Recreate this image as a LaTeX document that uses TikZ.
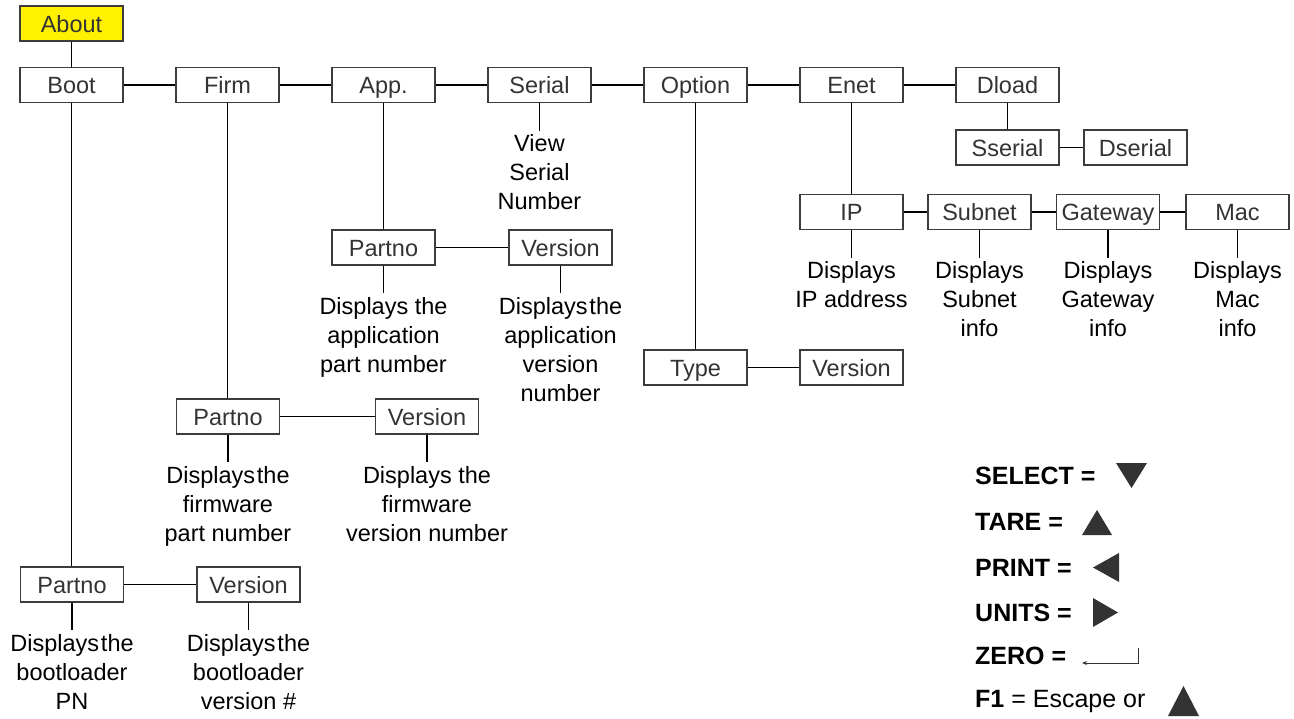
\documentclass[tikz,border=0pt]{standalone}
\usepackage{fontspec}
\setmainfont{Liberation Sans}
\usetikzlibrary{positioning,arrows.meta}
\definecolor{boxgray}{HTML}{3C3C3C}
\definecolor{textgray}{HTML}{333333}
\definecolor{aboutyellow}{HTML}{FFF100}
\definecolor{symgray}{HTML}{333333}
\newcommand{\tsp}{\hspace{0.08em}}
\begin{document}
\begin{tikzpicture}[x=1pt,y=-1pt,
  box/.style={draw=boxgray, line width=1.3pt, fill=white, minimum width=103pt, minimum height=35pt,
    inner sep=0pt, text height=20pt, text depth=2.6pt, text=textgray, font=\fontsize{23.5}{29}\selectfont},
  desc/.style={align=center, inner xsep=0pt, inner ysep=4pt, text=black,
    font=\fontsize{23.5}{29}\selectfont},
  conn/.style={line width=1.3pt, black},
  legend/.style={anchor=base west, inner sep=0pt, font=\fontsize{25}{30}\selectfont},
  sym/.style={fill=symgray, draw=none},
  node distance=27.5pt]
\useasboundingbox (0,0) rectangle (1294,719);

% boxes
\node[box, fill=aboutyellow] (about) at (71.5,23.5) {About};
\node[box] (boot)   at (71.5,85)  {Boot};
\node[box] (firm)   at (227.5,85) {Firm};
\node[box] (app)    at (383.5,85) {App.};
\node[box] (serial) at (539.5,85) {Serial};
\node[box] (option) at (695.5,85) {Option};
\node[box] (enet)   at (851.5,85) {Enet};
\node[box] (dload)  at (1007.5,85) {Dload};
\node[box] (sserial) at (1007.5,147.5) {Sserial};
\node[box] (dserial) at (1135.5,147.5) {Dserial};
\node[box] (ip)      at (851.5,212) {IP};
\node[box] (subnet)  at (979.5,212) {Subnet};
\node[box] (gateway) at (1108,212) {Gateway};
\node[box] (mac)     at (1237.5,212) {Mac};
\node[box] (apppn)   at (383.5,247.5) {Partno};
\node[box] (appver)  at (560.5,247.5) {Version};
\node[box] (type)    at (695.5,367.5) {Type};
\node[box] (optver)  at (851.5,367.5) {Version};
\node[box] (firmpn)  at (228,416.5) {Partno};
\node[box] (firmver) at (427,416.5) {Version};
\node[box] (bootpn)  at (72,584.5) {Partno};
\node[box] (bootver) at (248.5,584.5) {Version};

% descriptions
\node[desc, below=of serial] (serialdesc) {View\\Serial\\Number};
\node[desc, below=of apppn] (apppndesc) {Displays the\\application\\part number};
\node[desc, below=of appver] (appverdesc) {Displays\tsp the\\application\\version\\number};
\node[desc, below=of firmpn] (firmpndesc) {Displays\tsp the\\firmware\\part number};
\node[desc, below=of firmver] (firmverdesc) {Displays the\\firmware\\version number};
\node[desc, below=of bootpn] (bootpndesc) {Displays\tsp the\\bootloader\\PN};
\node[desc, below=of bootver] (bootverdesc) {Displays\tsp the\\bootloader\\version \#};
\node[desc, below=of ip] (ipdesc) {Displays\\IP address};
\node[desc, below=of subnet] (subnetdesc) {Displays\\Subnet\\info};
\node[desc, below=of gateway] (gatewaydesc) {Displays\\Gateway\\info};
\node[desc, below=of mac] (macdesc) {Displays\\Mac\\info};

% connectors
\draw[conn] (about) -- (boot);
\draw[conn] (boot) -- (firm);
\draw[conn] (firm) -- (app);
\draw[conn] (app) -- (serial);
\draw[conn] (serial) -- (option);
\draw[conn] (option) -- (enet);
\draw[conn] (enet) -- (dload);
\draw[conn] (dload) -- (sserial);
\draw[conn] (sserial) -- (dserial);
\draw[conn] (enet) -- (ip);
\draw[conn] (ip) -- (subnet);
\draw[conn] (subnet) -- (gateway);
\draw[conn] (gateway) -- (mac);
\draw[conn] (app) -- (apppn);
\draw[conn] (apppn) -- (appver);
\draw[conn] (option) -- (type);
\draw[conn] (type) -- (optver);
\draw[conn] (firm.south) -- (firmpn.north -| firm.south);
\draw[conn] (firmpn) -- (firmver);
\draw[conn] (boot) -- (bootpn.north -| boot.south);
\draw[conn] (bootpn) -- (bootver);

\foreach \b/\d in {serial/serialdesc, apppn/apppndesc, appver/appverdesc, firmpn/firmpndesc,
  firmver/firmverdesc, bootpn/bootpndesc, bootver/bootverdesc, ip/ipdesc, subnet/subnetdesc,
  gateway/gatewaydesc, mac/macdesc}
  \draw[conn] (\b.south) -- (\d.north);

% legend
\node[legend] (lsel)  at (975,484) {\textbf{SELECT =}};
\node[legend] (ltare) at (975,530) {\textbf{TARE =}};
\node[legend] (lprint) at (975,576) {\textbf{PRINT =}};
\node[legend] (lunits) at (975,621) {\textbf{UNITS =}};
\node[legend] (lzero) at (975,664) {\textbf{ZERO =}};
\node[legend] (lf1) at (975,707) {\textbf{F1} = Escape or};

\fill[sym] (1116,463) -- (1147,463) -- (1131.5,488) -- cycle;
\fill[sym] (1082,535) -- (1112,535) -- (1097,510) -- cycle;
\fill[sym] (1119,553) -- (1119,582) -- (1093,567.5) -- cycle;
\fill[sym] (1093,598) -- (1093,627) -- (1118,612.5) -- cycle;
\draw[line width=0.9pt, symgray, -{Stealth[length=5pt,width=4pt]}] (1138,648) -- (1138,663) -- (1082,663);
\fill[sym] (1168,716) -- (1199,716) -- (1183.5,686) -- cycle;
\end{tikzpicture}
\end{document}
